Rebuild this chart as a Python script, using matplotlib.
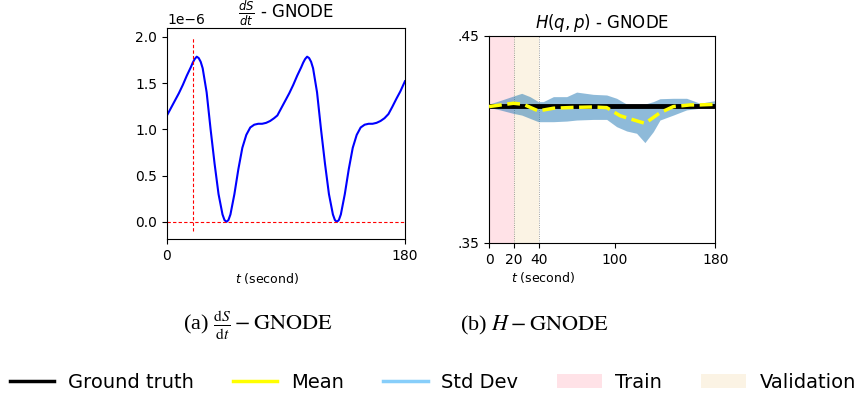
import matplotlib.pyplot as plt
import matplotlib as mpl
from matplotlib.lines import Line2D
from matplotlib.patches import Patch

mpl.rcParams['font.family'] = ['DejaVu Sans']

# ---- data: dS/dt (x1e-6) ----
t_ds = [0, 3, 6, 9, 12, 15, 18, 19.5, 21, 22.5, 24, 25.5, 27, 30, 33, 36, 39, 42, 43.5,
        45, 46.5, 48, 51, 54, 57, 60, 63, 66, 69, 72, 75, 78, 81,
        83.5, 86.5, 89.5, 92.5, 95.5, 98.5, 101.5, 103, 104.5, 106, 107.5, 109, 110.5,
        113.5, 116.5, 119.5, 122.5, 125.5, 127, 128.5, 130, 131.5, 134.5, 137.5, 140.5,
        143.5, 146.5, 149.5, 152.5, 155.5, 158.5, 161.5, 164.5, 167.5, 170.5, 173.5,
        176.5, 180]
ds_dt = [1.15, 1.23, 1.31, 1.39, 1.48, 1.58, 1.67, 1.72, 1.76, 1.785, 1.77, 1.73, 1.66,
         1.40, 1.00, 0.63, 0.30, 0.08, 0.02, 0.00, 0.02, 0.08, 0.30, 0.57, 0.80, 0.94,
         1.02, 1.05, 1.06, 1.06, 1.07, 1.09, 1.12,
         1.15, 1.23, 1.31, 1.39, 1.48, 1.58, 1.67, 1.72, 1.76, 1.785, 1.77, 1.73, 1.66,
         1.40, 1.00, 0.63, 0.30, 0.08, 0.02, 0.00, 0.02, 0.08, 0.30, 0.57, 0.80, 0.94,
         1.02, 1.05, 1.06, 1.06, 1.07, 1.09, 1.12, 1.165, 1.245, 1.33, 1.41, 1.52]

# ---- data: H(q, p) ----
t_h = [0, 8.7, 19.4, 26, 32.6, 39.2, 43.2, 51.2, 61.8, 69.7, 83, 93.6, 101.5, 109.5,
       117.4, 124, 130.7, 136, 146.6, 157.2, 167.8, 180]
h_upper = [0.4171, 0.4188, 0.4210, 0.4223, 0.4207, 0.4183, 0.4183, 0.4207, 0.4207,
           0.4229, 0.4218, 0.4215, 0.4199, 0.4171, 0.4171, 0.4171, 0.4183, 0.4197,
           0.4199, 0.4199, 0.4175, 0.4188]
h_lower = [0.4155, 0.4143, 0.4126, 0.4118, 0.4102, 0.4086, 0.4086, 0.4086, 0.4089,
           0.4094, 0.4097, 0.4097, 0.4062, 0.4041, 0.4030, 0.3985, 0.4038, 0.4094,
           0.4118, 0.4143, 0.4151, 0.4155]
t_mean = [0, 19.4, 27.3, 39.2, 51.2, 67, 83, 93.6, 104.2, 114.8, 124.1, 136, 146.6,
          151.9, 160, 167.8, 180]
h_mean = [0.4159, 0.4175, 0.4170, 0.4138, 0.4151, 0.4155, 0.4157, 0.4154, 0.4115,
          0.4095, 0.4078, 0.4129, 0.4159, 0.4162, 0.4167, 0.4167, 0.4170]
h_true = 0.4162

fig = plt.figure(figsize=(8.62, 3.96), dpi=100)

# (a) dS/dt
ax1 = fig.add_axes([0.1937, 0.3965, 0.2761, 0.5328])
ax1.plot(t_ds, [v * 1e-6 for v in ds_dt], color='blue', lw=1.5)
ax1.vlines(20, -0.1e-6, 2.0e-6, colors='#ff0000', linestyles=(0, (3, 2)), lw=0.8)
ax1.hlines(0, 0, 180, colors='#ff0000', linestyles=(0, (3, 2)), lw=0.8)
ax1.set_xlim(0, 180)
ax1.set_ylim(-0.185e-6, 2.095e-6)
ax1.set_xticks([0, 180])
ax1.tick_params(labelsize=10)
ax1.yaxis.get_offset_text().set_fontsize(10)
ax1.set_title(r'$\frac{dS}{dt}$ - GNODE', fontsize=12)
ax1.set_xlabel(r'$t$ (second)', fontsize=9)
ax1.xaxis.set_label_coords(0.422, -0.185)
ax1.xaxis.label.set_va('center')

# (b) H
ax2 = fig.add_axes([0.5673, 0.3864, 0.2625, 0.5227])
ax2.axvspan(0, 20, color='pink', alpha=0.45, lw=0)
ax2.axvspan(20, 40, color='wheat', alpha=0.35, lw=0)
ax2.axvline(20, color='grey', ls=':', lw=0.6)
ax2.axvline(40, color='grey', ls=':', lw=0.6)
ax2.fill_between(t_h, h_lower, h_upper, color='C0', alpha=0.5, lw=0, zorder=2)
ax2.plot([0, 180], [h_true, h_true], color='black', lw=3.5, zorder=3)
ax2.plot(t_mean, h_mean, color='yellow', ls='--', lw=2.5, zorder=4)
ax2.set_xlim(0, 180)
ax2.set_ylim(0.35, 0.45)
ax2.set_xticks([0, 20, 40, 100, 180])
ax2.set_yticks([0.35, 0.45])
ax2.set_yticklabels(['.35', '.45'])
ax2.tick_params(labelsize=10)
ax2.set_title(r'$H(q,p)$ - GNODE', fontsize=12)
ax2.set_xlabel(r'$t$ (second)', fontsize=9)
ax2.xaxis.set_label_coords(0.239, -0.169)
ax2.xaxis.label.set_va('center')

# sub captions
fig.text(0.299, 0.179, r'(a) $\frac{\mathrm{d}S}{\mathrm{d}t}-\mathrm{GNODE}$',
         ha='center', va='center', fontsize=16, family='Liberation Serif',
         math_fontfamily='stix')
fig.text(0.620, 0.179, r'(b) $H-\mathrm{GNODE}$',
         ha='center', va='center', fontsize=16, family='Liberation Serif',
         math_fontfamily='stix')

handles = [Line2D([], [], color='black', lw=2.5),
           Line2D([], [], color='yellow', lw=2.5),
           Line2D([], [], color='lightskyblue', lw=2.5),
           Patch(facecolor='pink', alpha=0.45, lw=0),
           Patch(facecolor='wheat', alpha=0.35, lw=0)]
labels = ['Ground truth', 'Mean', 'Std Dev', 'Train', 'Validation']
fig.legend(handles, labels, loc='center', bbox_to_anchor=(0.502, 0.035), ncol=5,
           frameon=False, handlelength=2.3, handletextpad=0.7,
           columnspacing=2.0, prop={'family': ['DejaVu Sans Condensed', 'DejaVu Sans'], 'size': 14})

fig.savefig('out.png', dpi=100)
